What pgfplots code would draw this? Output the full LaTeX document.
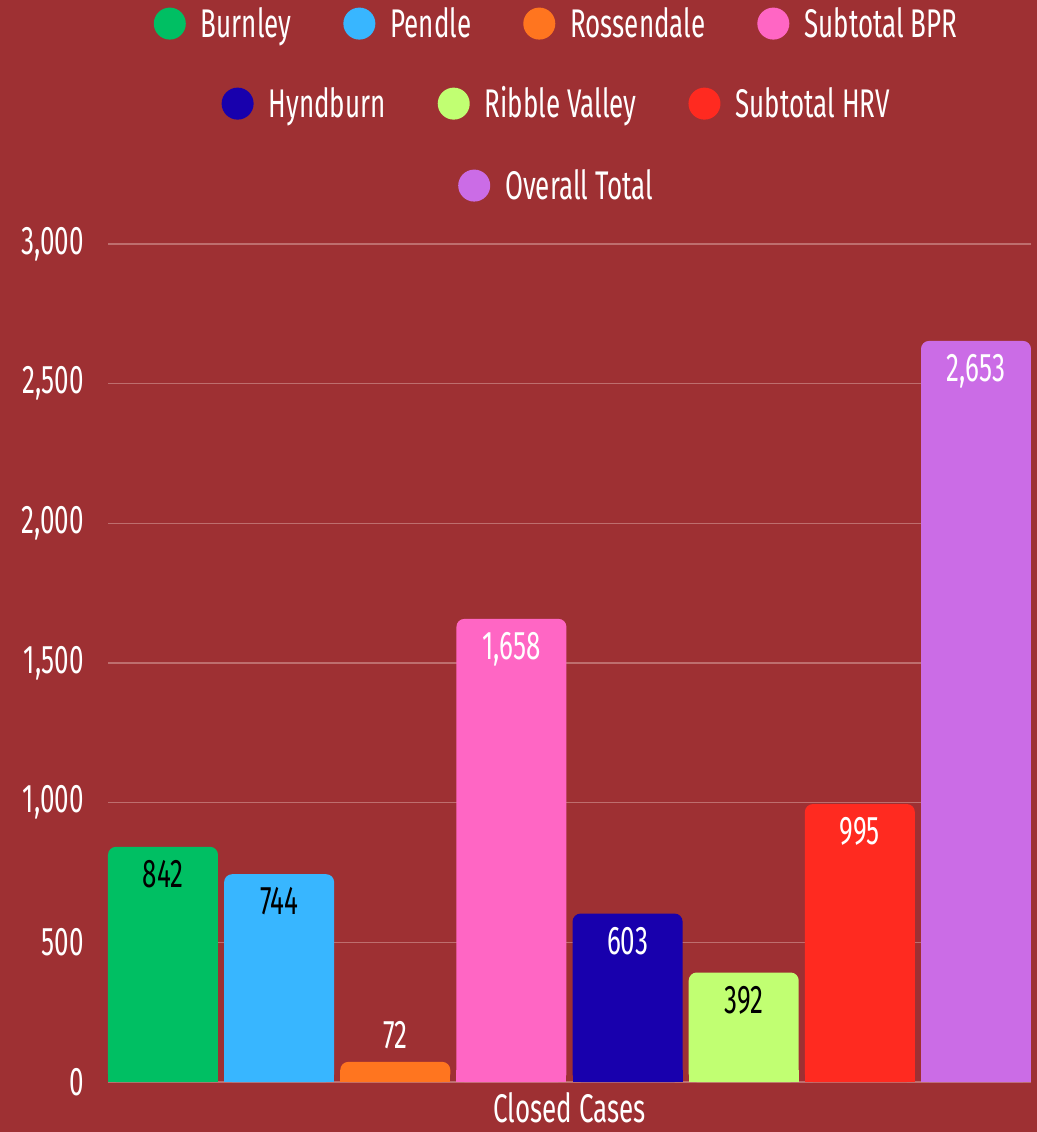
\documentclass[border=0pt]{standalone}
\usepackage{fontspec}
\setmainfont{Fira Sans}[FakeStretch=0.65]
\usepackage{pgfplots}
\pgfplotsset{compat=1.18}

\definecolor{bg}{HTML}{9E3033}
\definecolor{gridc}{RGB}{190,110,110}
\definecolor{cBur}{HTML}{00BF63}
\definecolor{cPen}{HTML}{38B6FF}
\definecolor{cRos}{HTML}{FF751F}
\definecolor{cBPR}{HTML}{FF66C4}
\definecolor{cHyn}{HTML}{1800AD}
\definecolor{cRib}{HTML}{C1FF72}
\definecolor{cHRV}{HTML}{FF2A20}
\definecolor{cTot}{HTML}{CB6CE6}

\newcommand\bigfont{\fontsize{20}{24}\selectfont}

\pgfplotsset{
  base/.style={width=461.5pt, height=419pt, scale only axis,
    at={(0pt,0pt)}, anchor=south west},
  legrow/.style={base, hide axis, xmin=0, xmax=1, ymin=0, ymax=1,
    legend columns=-1,
    legend style={at={(0.485,#1)}, anchor=center, draw=none, fill=none,
      text=white, font=\bigfont, inner sep=0pt, nodes={inner sep=0pt},
      /tikz/every odd column/.append style={column sep=7.5pt},
      /tikz/every even column/.append style={column sep=26pt}},
    legend image code/.code={\fill[##1] (8pt,0pt) circle (8pt);}},
  inlab/.style={nodes near coords, every node near coord/.append style={
      anchor=north, yshift=-6.5pt, inner sep=0pt, font=\bigfont, text=#1}},
  outlab/.style={nodes near coords, every node near coord/.append style={
      anchor=south, yshift=6.5pt, inner sep=0pt, font=\bigfont, text=#1}},
}

\begin{document}
\begin{tikzpicture}
\useasboundingbox (-54pt,-25pt) rectangle (464.5pt,541pt);
\fill[bg] (-55pt,-26pt) rectangle (465.5pt,542pt);

\begin{axis}[base,
  ybar, bar width=55pt, bar shift=0pt,
  xmin=-0.4735, xmax=7.4735, ymin=0, ymax=3000,
  ytick={0,500,...,3000}, xtick=\empty,
  axis line style={draw=none}, major tick length=0pt,
  ymajorgrids, grid style={color=gridc, line width=0.6pt},
  tick label style={font=\bigfont, text=white},
  yticklabel style={inner sep=0pt, xshift=-12pt},
  /pgf/number format/1000 sep={,},
  /pgf/number format/assume math mode=true,
  xlabel={Closed Cases},
  xlabel style={font=\bigfont, text=white, at={(axis description cs:0.5,0)},
    anchor=north, inner sep=0pt, yshift=-5pt},
]
\addplot[fill=cBur, draw=none, rounded corners=4pt, inlab=black] coordinates {(0,842)};
\addplot[fill=cPen, draw=none, rounded corners=4pt, inlab=black] coordinates {(1,744)};
\addplot[fill=cRos, draw=none, rounded corners=4pt, outlab=white] coordinates {(2,72)};
\addplot[fill=cBPR, draw=none, rounded corners=4pt, inlab=white] coordinates {(3,1658)};
\addplot[fill=cHyn, draw=none, rounded corners=4pt, inlab=white] coordinates {(4,603)};
\addplot[fill=cRib, draw=none, rounded corners=4pt, inlab=black] coordinates {(5,392)};
\addplot[fill=cHRV, draw=none, rounded corners=4pt, inlab=white] coordinates {(6,995)};
\addplot[fill=cTot, draw=none, rounded corners=4pt, inlab=white] coordinates {(7,2653)};
% square bottoms
\begin{scope}
\clip (axis cs:-0.5,0) rectangle (axis cs:7.5,40);
\addplot[fill=cBur, draw=none, forget plot] coordinates {(0,842)};
\addplot[fill=cPen, draw=none, forget plot] coordinates {(1,744)};
\addplot[fill=cRos, draw=none, forget plot] coordinates {(2,72)};
\addplot[fill=cBPR, draw=none, forget plot] coordinates {(3,1658)};
\addplot[fill=cHyn, draw=none, forget plot] coordinates {(4,603)};
\addplot[fill=cRib, draw=none, forget plot] coordinates {(5,392)};
\addplot[fill=cHRV, draw=none, forget plot] coordinates {(6,995)};
\addplot[fill=cTot, draw=none, forget plot] coordinates {(7,2653)};
\end{scope}
\end{axis}

\begin{axis}[legrow=1.263]
\addlegendimage{fill=cBur, draw=none}\addlegendentry{Burnley}
\addlegendimage{fill=cPen, draw=none}\addlegendentry{Pendle}
\addlegendimage{fill=cRos, draw=none}\addlegendentry{Rossendale}
\addlegendimage{fill=cBPR, draw=none}\addlegendentry{Subtotal BPR}
\end{axis}
\begin{axis}[legrow=1.1675]
\addlegendimage{fill=cHyn, draw=none}\addlegendentry{Hyndburn}
\addlegendimage{fill=cRib, draw=none}\addlegendentry{Ribble Valley}
\addlegendimage{fill=cHRV, draw=none}\addlegendentry{Subtotal HRV}
\end{axis}
\begin{axis}[legrow=1.0697]
\addlegendimage{fill=cTot, draw=none}\addlegendentry{Overall Total}
\end{axis}
\end{tikzpicture}
\end{document}
